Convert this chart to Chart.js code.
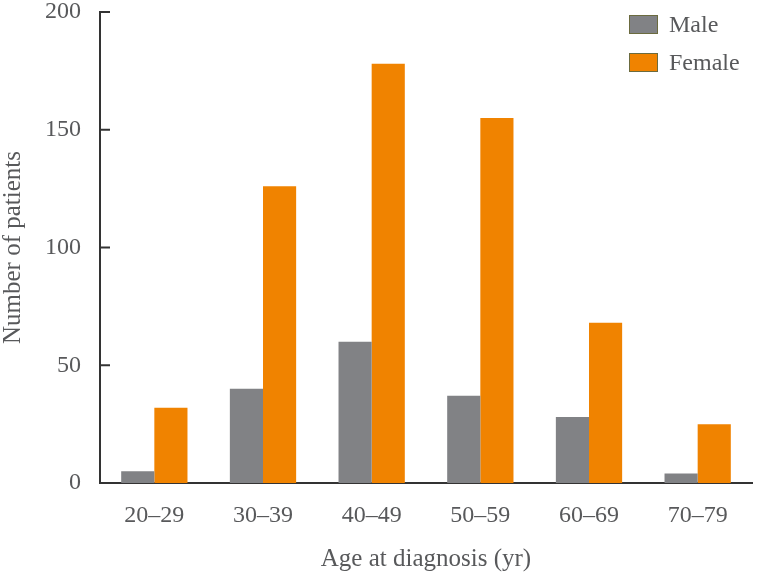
<!DOCTYPE html>
<html lang="en">
<head>
<meta charset="UTF-8">
<title>Age at diagnosis</title>
<script src="https://cdn.jsdelivr.net/npm/chart.js@4"></script>
<style>
  body { margin: 0; background: #fff; }
  .wrap { position: relative; width: 762px; height: 577px; }
  .legend { position: absolute; left: 629px; top: 15px; font-family: 'Liberation Serif', 'Times New Roman', serif; font-size: 24px; color: #58595b; }
  .legend .item { display: flex; align-items: center; height: 19px; margin-bottom: 19px; }
  .legend .box { width: 27px; height: 17px; border: 1px solid #6b6b3f; margin-right: 11px; }
</style>
</head>
<body>
<div class="wrap">
  <canvas id="chart" width="762" height="577"></canvas>
  <div class="legend" id="legend"></div>
</div>
<script>
const categories = ['20–29', '30–39', '40–49', '50–59', '60–69', '70–79'];
const maleValues = [5, 40, 60, 37, 28, 4];
const femaleValues = [32, 126, 178, 155, 68, 25];
const seriesNames = ['Male', 'Female'];
const seriesColors = ['#818285', '#f08300'];
const yTicks = [0, 50, 100, 150, 200];

const textColor = '#58595b';
const serif = "'Liberation Serif', 'Times New Roman', serif";

// tick marks pointing into the plot, as in the original figure
const innerTicks = {
  id: 'innerTicks',
  afterDraw(chart) {
    const y = chart.scales.y;
    const ctx = chart.ctx;
    ctx.save();
    ctx.strokeStyle = '#333';
    ctx.lineWidth = 2;
    y.ticks.forEach((t, i) => {
      const py = y.getPixelForTick(i);
      ctx.beginPath();
      ctx.moveTo(y.right, py);
      ctx.lineTo(y.right + 10, py);
      ctx.stroke();
    });
    ctx.restore();
  }
};

new Chart(document.getElementById('chart'), {
  type: 'bar',
  data: {
    labels: categories,
    datasets: [
      { label: seriesNames[0], data: maleValues, backgroundColor: seriesColors[0] },
      { label: seriesNames[1], data: femaleValues, backgroundColor: seriesColors[1] }
    ]
  },
  options: {
    responsive: false,
    animation: false,
    categoryPercentage: 0.61,
    barPercentage: 1,
    layout: { padding: { top: 12, right: 10, left: 0, bottom: 0 } },
    plugins: { legend: { display: false }, tooltip: { enabled: false } },
    scales: {
      x: {
        grid: { display: false, drawTicks: false },
        border: { color: '#333', width: 2 },
        ticks: { color: textColor, font: { family: serif, size: 24 }, padding: 18 },
        title: { display: true, text: 'Age at diagnosis (yr)', color: textColor, font: { family: serif, size: 25 }, padding: { top: 0, bottom: 3 } },
        afterFit(scale) { scale.height = 94; }
      },
      y: {
        min: 0,
        max: 200,
        afterBuildTicks(scale) { scale.ticks = yTicks.map(v => ({ value: v })); },
        grid: { display: false, drawTicks: false },
        border: { color: '#333', width: 2 },
        ticks: { color: textColor, font: { family: serif, size: 24 }, padding: 19 },
        title: { display: true, text: 'Number of patients', color: textColor, font: { family: serif, size: 25 }, padding: { top: -2, bottom: 0 } },
        afterFit(scale) {
          scale.width = 100;
          scale.paddingTop = 0;
          scale.paddingBottom = 0;
        }
      }
    }
  },
  plugins: [innerTicks]
});

const legendEl = document.getElementById('legend');
seriesNames.forEach((name, i) => {
  const item = document.createElement('div');
  item.className = 'item';
  item.innerHTML = '<span class="box" style="background:' + seriesColors[i] + '"></span><span>' + name + '</span>';
  legendEl.appendChild(item);
});
</script>
</body>
</html>
